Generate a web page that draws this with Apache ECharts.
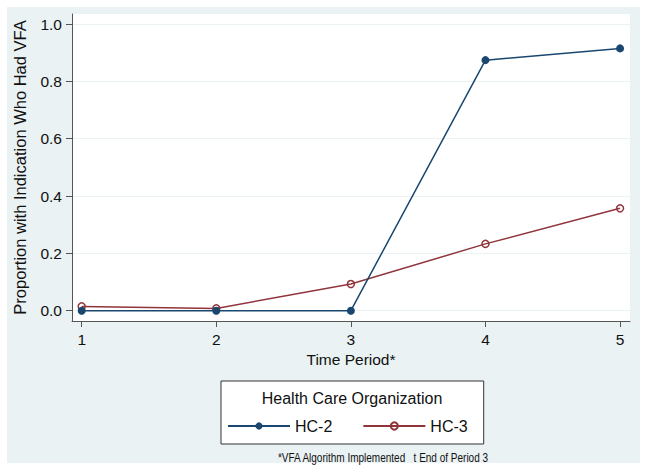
<!DOCTYPE html>
<html>
<head>
<meta charset="utf-8">
<script src="https://cdn.jsdelivr.net/npm/echarts@6/dist/echarts.min.js"></script>
<style>html,body{margin:0;padding:0;background:#fff;}#c{width:645px;height:471px;}</style>
</head>
<body>
<div id="c"></div>
<script>
const periods = [1, 2, 3, 4, 5];
const hc2 = [0.0, 0.0, 0.0, 0.874, 0.915];
const hc3 = [0.015, 0.008, 0.093, 0.233, 0.357];
const xTicks = [1, 2, 3, 4, 5];
const yTicks = [0, 0.2, 0.4, 0.6, 0.8, 1.0];
const seriesNames = ['HC-2', 'HC-3'];

const FONT = '"Liberation Sans", Arial, sans-serif';
const C2 = '#1a476f', C3 = '#90353b', AX = '#555555';

const chart = echarts.init(document.getElementById('c'), null, {renderer: 'svg'});
chart.setOption({
  backgroundColor: '#ffffff',
  animation: false,
  graphic: [
    {type: 'rect', z: -100, shape: {x: 7, y: 7, width: 633, height: 456}, style: {fill: '#eaf2f3'}},
    {type: 'text', z: 10, x: 352, y: 398, style: {x: 0, y: 0, text: 'Health Care Organization', fill: '#111', font: '16px ' + FONT, textAlign: 'center', textVerticalAlign: 'middle'}},
    {type: 'text', z: 10, x: 383, y: 457, scaleX: 0.77, style: {x: 0, y: 0, text: '*VFA Algorithm Implemented\u00a0\u00a0 t End of Period 3', fill: '#111', font: '13px ' + FONT, textAlign: 'center', textVerticalAlign: 'middle'}}
  ],
  grid: {left: 72, top: 14, right: 15, bottom: 150, show: true, backgroundColor: '#ffffff', borderWidth: 0},
  legend: {
    left: 221, top: 381, orient: 'horizontal',
    data: seriesNames,
    itemWidth: 62, itemHeight: 9, itemGap: 30,
    padding: [37, 16, 10, 6],
    backgroundColor: '#ffffff', borderColor: '#333333', borderWidth: 1, borderRadius: 0,
    textStyle: {fontFamily: FONT, fontSize: 16, color: '#111'}
  },
  xAxis: {
    type: 'value', min: 0.928, max: 5.074,
    name: 'Time Period*', nameLocation: 'middle', nameGap: 29,
    nameTextStyle: {fontFamily: FONT, fontSize: 15.5, color: '#111'},
    axisLine: {show: true, onZero: false, lineStyle: {color: AX, width: 1}},
    axisTick: {show: true, length: 6, customValues: xTicks, lineStyle: {color: AX}},
    axisLabel: {customValues: xTicks, margin: 10, fontFamily: FONT, fontSize: 15.5, color: '#111'},
    splitLine: {show: false}
  },
  yAxis: {
    type: 'value', min: -0.036, max: 1.035,
    name: 'Proportion with Indication Who Had VFA', nameLocation: 'middle', nameGap: 44,
    nameTextStyle: {fontFamily: FONT, fontSize: 16.5, color: '#111'},
    axisLine: {show: true, onZero: false, lineStyle: {color: AX, width: 1}},
    axisTick: {show: true, length: 6, customValues: yTicks, lineStyle: {color: AX}},
    axisLabel: {customValues: yTicks, margin: 10, fontFamily: FONT, fontSize: 15.5, color: '#111', formatter: v => v.toFixed(1)},
    splitLine: {show: true, customValues: yTicks, lineStyle: {color: '#eaf2f3', width: 1}}
  },
  series: [
    {
      name: seriesNames[0], type: 'line',
      data: periods.map((p, i) => [p, hc2[i]]),
      symbol: 'circle', symbolSize: 8,
      itemStyle: {color: C2},
      lineStyle: {color: C2, width: 1.5},
      z: 3
    },
    {
      name: seriesNames[1], type: 'line',
      data: periods.map((p, i) => [p, hc3[i]]),
      symbol: 'circle', symbolSize: 7,
      itemStyle: {color: 'rgba(255,255,255,0)', borderColor: C3, borderWidth: 1.5},
      lineStyle: {color: C3, width: 1.5},
      z: 2
    }
  ]
});
</script>
</body>
</html>
